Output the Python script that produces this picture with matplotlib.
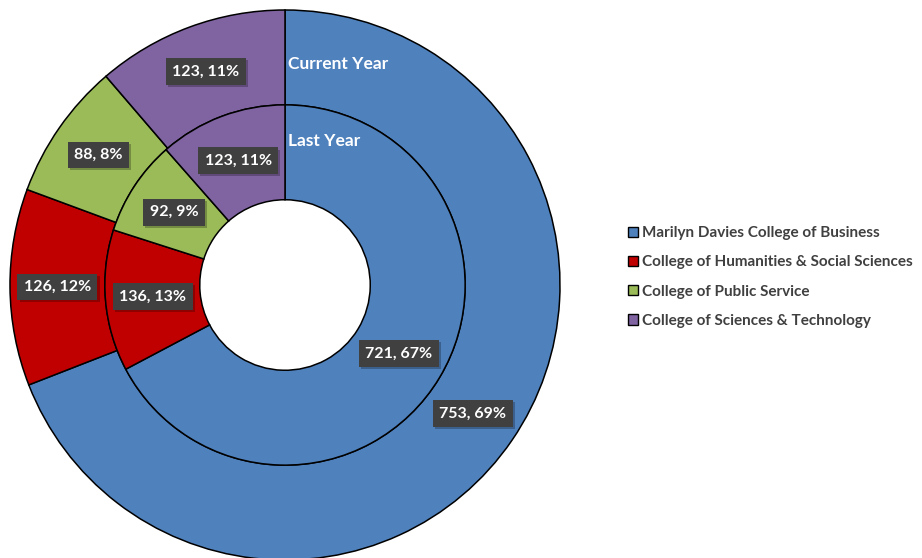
import matplotlib.pyplot as plt
import matplotlib.patheffects as pe
from matplotlib.patches import Patch
import numpy as np

colleges = ["Marilyn Davies College of Business",
            "College of Humanities & Social Sciences",
            "College of Public Service",
            "College of Sciences & Technology"]
current_year = [753, 126, 88, 123]
last_year = [721, 136, 92, 123]
colors = ["#4F81BD", "#C00000", "#9BBB59", "#8064A2"]

plt.rcParams['font.family'] = ['Lato', 'DejaVu Sans']

fig = plt.figure(figsize=(9.22, 5.58), dpi=100)
ax = fig.add_axes([10 / 922, -2 / 558, 550 / 922, 550 / 558])

r_out, r_mid, r_hole = 1.0, 0.655, 0.31
wedge_kw = dict(edgecolor="black", linewidth=1.1)

ax.pie(current_year, radius=r_out, colors=colors, startangle=90, counterclock=False,
       wedgeprops=dict(width=r_out - r_mid, **wedge_kw))
ax.pie(last_year, radius=r_mid, colors=colors, startangle=90, counterclock=False,
       wedgeprops=dict(width=r_mid - r_hole, **wedge_kw))


def add_labels(values, r):
    total = sum(values)
    start = 90.0
    for v in values:
        sweep = 360.0 * v / total
        mid = np.deg2rad(start - sweep / 2)
        start -= sweep
        t = ax.text(r * np.cos(mid), r * np.sin(mid), f"{v}, {round(100 * v / total)}%",
                    ha="center", va="center", color="white", fontsize=11.5, fontweight="bold",
                    bbox=dict(boxstyle="square,pad=0.4", facecolor="#404040", edgecolor="none"))
        t.get_bbox_patch().set_path_effects([
            pe.SimplePatchShadow(offset=(1.5, -1.5), shadow_rgbFace="#000000", alpha=0.25),
            pe.Normal()])


add_labels(current_year, (r_out + r_mid) / 2)
add_labels(last_year, (r_mid + r_hole) / 2)

ax.text(0.01, 0.805, "Current Year", color="white", fontsize=12.5, fontweight="bold",
        ha="left", va="center")
ax.text(0.01, 0.525, "Last Year", color="white", fontsize=12.5, fontweight="bold",
        ha="left", va="center")

ax.set_xlim(-1, 1)
ax.set_ylim(-1, 1)
ax.set_aspect("equal")
ax.axis("off")

handles = [Patch(facecolor=c, edgecolor="black", linewidth=1) for c in colors]
leg = fig.legend(handles, colleges, loc="center left", bbox_to_anchor=(622 / 922, 1 - 277 / 558),
                 frameon=False, fontsize=11, handlelength=0.65, handleheight=0.65,
                 handletextpad=0.25, labelspacing=1.0, borderaxespad=0)
for txt in leg.get_texts():
    txt.set_color("#404040")
    txt.set_fontweight("bold")

fig.savefig("out.png", dpi=100)
